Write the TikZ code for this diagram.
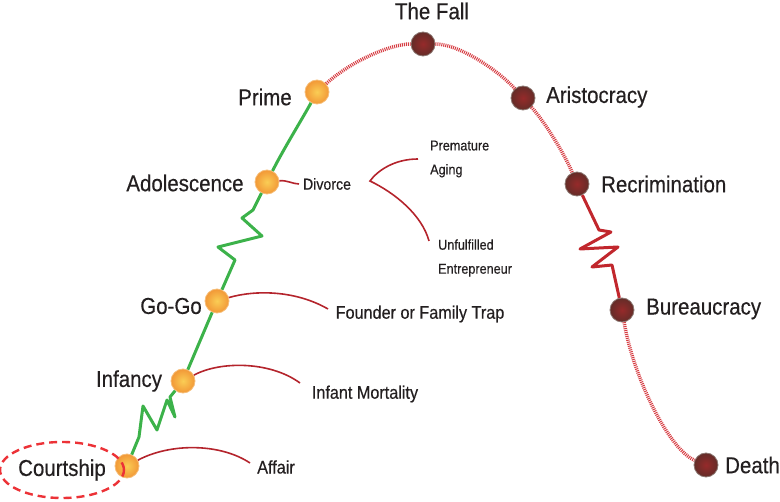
\documentclass[tikz,border=0pt]{standalone}
\usepackage{fontspec}
\setmainfont{Liberation Sans}[FakeStretch=0.89, FakeBold=0.4]
\usetikzlibrary{shapes.geometric}

\definecolor{lifegreen}{RGB}{60,178,74}
\definecolor{lifered}{RGB}{193,39,45}
\definecolor{branchred}{RGB}{180,36,44}
\definecolor{stripered}{RGB}{214,60,66}
\definecolor{courtred}{RGB}{236,50,55}
\definecolor{dotyellow}{RGB}{250,205,85}
\definecolor{dotorange}{RGB}{242,152,55}
\definecolor{dotrim}{RGB}{246,190,120}
\definecolor{darkin}{RGB}{150,42,42}
\definecolor{darkout}{RGB}{100,44,40}
\definecolor{darkrim}{RGB}{140,120,115}
\definecolor{textgray}{RGB}{35,31,32}

\tikzset{
  young/.style={circle, minimum size=24pt, inner sep=0pt, draw=dotrim, line width=0.8pt, inner color=dotyellow, outer color=dotorange},
  old/.style={circle, minimum size=24pt, inner sep=0pt, draw=darkrim, line width=0.8pt, inner color=darkin, outer color=darkout},
  stage/.style={text=textgray, inner sep=0pt, font=\fontsize{23}{26}\selectfont},
  note/.style={text=textgray, inner sep=0pt, font=\fontsize{18.2}{21}\selectfont},
  smallnote/.style={text=textgray, inner sep=0pt, font=\fontsize{15.9}{19}\selectfont},
  tinynote/.style={text=textgray, inner sep=0pt, anchor=west, align=left, font=\fontsize{14.2}{24}\selectfont},
  growth/.style={draw=lifegreen, line width=3pt, line join=round},
  decline/.style={draw=stripered, line width=3.5pt, dash pattern=on 1pt off 1pt},
  fallred/.style={draw=lifered, line width=3pt, line join=round},
  branch/.style={draw=branchred, line width=1.6pt}
}

\begin{document}
\begin{tikzpicture}[x=1pt,y=-1pt]
\useasboundingbox (0,0) rectangle (780,502);

\node[young] (courtdot) at (127,466) {};
\node[young] (infancydot) at (183,381) {};
\node[young] (gogodot) at (217,301) {};
\node[young] (adoldot) at (267,182) {};
\node[young] (primedot) at (317,92) {};
\node[old] (falldot) at (423,44) {};
\node[old] (aristodot) at (523,98) {};
\node[old] (recrimdot) at (577,184) {};
\node[old] (bureaudot) at (622,310) {};
\node[old] (deathdot) at (706,465) {};

\node[stage, ellipse, draw=courtred, line width=2.4pt, dash pattern=on 8pt off 5pt, minimum width=120pt, minimum height=56pt] (court) at (62,470) {Courtship};
\node[stage] (infancy) at (129,381) {Infancy};
\node[stage] (gogo) at (171,306) {Go-Go};
\node[stage] (adol) at (185,183) {Adolescence};
\node[stage] (prime) at (265,97) {Prime};
\node[stage] (fall) at (432,11) {The Fall};
\node[stage, anchor=west] (aristo) at (546,97) {Aristocracy};
\node[stage, anchor=west] (recrim) at (601,184) {Recrimination};
\node[stage, anchor=west] (bureau) at (646,309) {Bureaucracy};
\node[stage, anchor=west] (death) at (725,465) {Death};

\draw[growth] (courtdot) -- (139,437) -- (143,406) -- (157,430) -- (167,400) -- (175,417) -- (170,397) -- (infancydot);
\draw[growth] (infancydot) -- (gogodot);
\draw[growth] (gogodot) -- (235,260) -- (218,247) -- (262,236) -- (242,218) -- (253,210) -- (adoldot);
\draw[growth] (adoldot) .. controls (283,150) and (301,121) .. (primedot);

\draw[decline] (primedot) .. controls (350,62) and (390,44) .. (falldot);
\draw[decline] (falldot) .. controls (460,44) and (500,72) .. (aristodot);
\draw[decline] (aristodot) .. controls (545,122) and (565,155) .. (recrimdot);
\draw[fallred] (recrimdot) -- (599,230) -- (611,232) -- (580,249) -- (618,247) -- (592,267) -- (612,265) -- (bureaudot);
\draw[decline] (bureaudot) .. controls (634,380) and (670,450) .. (deathdot);

\node[note] (affair) at (276,467) {Affair};
\node[note] (mortality) at (365,394) {Infant Mortality};
\node[note] (trap) at (420,314) {Founder or Family Trap};
\node[smallnote] (divorce) at (327,184) {Divorce};
\node[tinynote] (aging) at (430,159) {Premature\\Aging};
\node[tinynote] (entre) at (438,258) {Unfulfilled\\Entrepreneur};

\coordinate (affairtip) at (250,463);
\coordinate (mortalitytip) at (300,383);
\coordinate (traptip) at (328,309);
\coordinate (divorcetip) at (299,184);
\coordinate (fork) at (370,181);
\coordinate (agingtip) at (418,159);
\coordinate (entretip) at (429,241);

\draw[branch] (courtdot) .. controls (170,443) and (220,443) .. (affairtip);
\draw[branch] (infancydot) .. controls (220,361) and (270,361) .. (mortalitytip);
\draw[branch] (gogodot) .. controls (255,290) and (295,290) .. (traptip);
\draw[branch] (adoldot) .. controls (287,180) and (293,184) .. (divorcetip);
\draw[branch] (agingtip) .. controls (395,159) and (378,170) .. (fork) .. controls (395,193) and (422,215) .. (entretip);
\end{tikzpicture}
\end{document}
